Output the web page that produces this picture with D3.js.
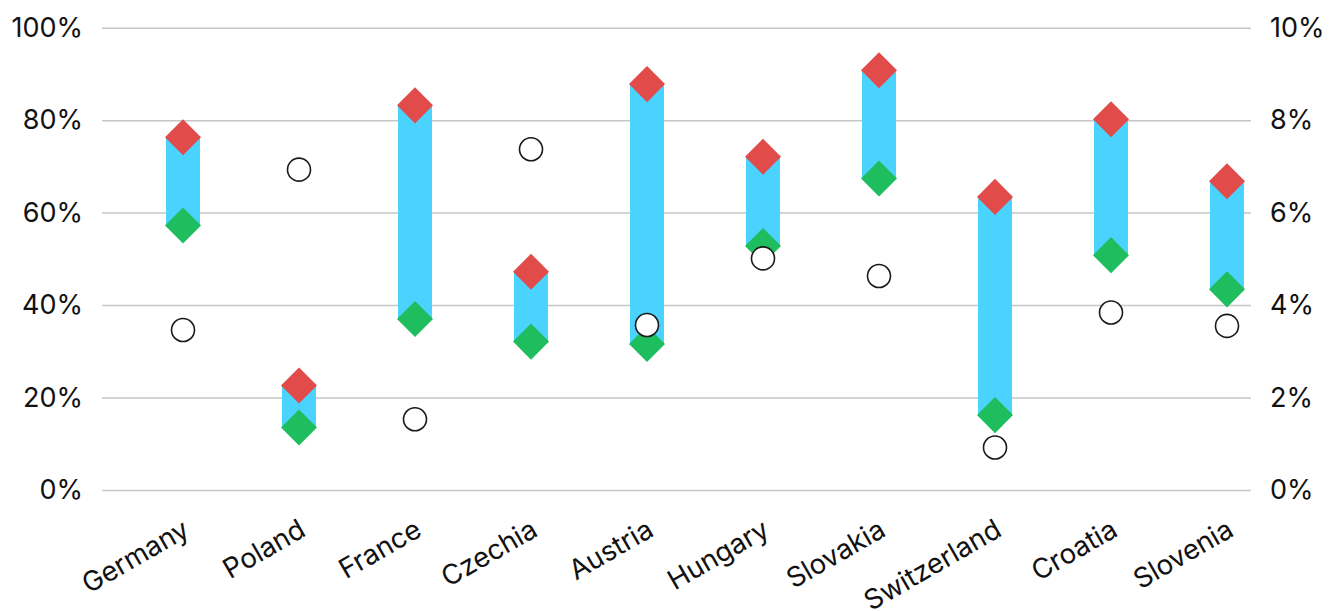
<!DOCTYPE html>
<html>
<head>
<meta charset="utf-8">
<script src="https://cdn.jsdelivr.net/npm/d3@7"></script>
<style>
  html, body { margin: 0; padding: 0; background: #fff; }
  svg { display: block; }
  .tick text { font-family: Inter, "Liberation Sans", Arial, sans-serif; fill: #111; }
</style>
</head>
<body>
<svg id="chart" width="1341" height="611"></svg>
<script>
const categories = ["Germany","Poland","France","Czechia","Austria","Hungary","Slovakia","Switzerland","Croatia","Slovenia"];
const highValues = [76.3, 22.6, 83.2, 47.2, 87.8, 72.1, 90.8, 63.4, 80.2, 66.8];   // red diamonds (left axis, %)
const lowValues  = [57.2, 13.5, 37.0, 32.1, 31.6, 52.8, 67.4, 16.2, 50.8, 43.4];   // green diamonds (left axis, %)
const circleValues = [3.46, 6.93, 1.53, 7.37, 3.57, 5.01, 4.63, 0.92, 3.84, 3.55]; // circles (right axis, %)
const leftTicks = [0, 20, 40, 60, 80, 100];
const rightTicks = [0, 2, 4, 6, 8, 10];

const svg = d3.select("#chart");
const gridLeft = 102, gridRight = 1251;
const y = d3.scaleLinear().domain([0, 100]).range([490, 27.7]);
const yR = d3.scaleLinear().domain([0, 10]).range([490, 27.7]);
const x = d3.scalePoint().domain(categories).range([183, 1227]);

// left axis + gridlines
const gl = svg.append("g").attr("transform", `translate(${gridLeft},0)`)
  .call(d3.axisLeft(y).tickValues(leftTicks).tickFormat(d => d + "%")
    .tickSize(-(gridRight - gridLeft)).tickPadding(19));
gl.select(".domain").remove();
gl.selectAll(".tick line").attr("stroke", "#c6c6c6").attr("stroke-width", 1.5);
gl.selectAll(".tick text").attr("font-size", 27);

// right axis
const gr = svg.append("g").attr("transform", `translate(${gridRight},0)`)
  .call(d3.axisRight(yR).tickValues(rightTicks).tickFormat(d => d + "%")
    .tickSize(0).tickPadding(19));
gr.select(".domain").remove();
gr.selectAll(".tick text").attr("font-size", 27);

// x axis labels
const gx = svg.append("g").attr("transform", `translate(0,490)`)
  .call(d3.axisBottom(x).tickSize(0).tickPadding(0));
gx.select(".domain").remove();
gx.selectAll(".tick text")
  .attr("font-size", 27.5)
  .attr("text-anchor", "end")
  .attr("transform", "translate(-2,28) rotate(-30)")
  .attr("dy", "0.71em")
  .attr("y", 0).attr("x", 0);

const data = categories.map((c, i) => ({ c, hi: highValues[i], lo: lowValues[i], circ: circleValues[i] }));

// bars
const barW = 34;
svg.append("g").selectAll("rect").data(data).join("rect")
  .attr("x", d => x(d.c) - barW / 2)
  .attr("y", d => y(d.hi))
  .attr("width", barW)
  .attr("height", d => y(d.lo) - y(d.hi))
  .attr("fill", "#4bd3ff");

const diamond = d3.symbol().type(d3.symbolSquare).size(650);
// green diamonds
svg.append("g").selectAll("path").data(data).join("path")
  .attr("d", diamond)
  .attr("transform", d => `translate(${x(d.c)},${y(d.lo)}) rotate(45)`)
  .attr("fill", "#1ebe5f");
// red diamonds
svg.append("g").selectAll("path").data(data).join("path")
  .attr("d", diamond)
  .attr("transform", d => `translate(${x(d.c)},${y(d.hi)}) rotate(45)`)
  .attr("fill", "#e14b4a");

// circles
svg.append("g").selectAll("circle").data(data).join("circle")
  .attr("cx", d => x(d.c))
  .attr("cy", d => yR(d.circ))
  .attr("r", 11.5)
  .attr("fill", "#fff")
  .attr("stroke", "#1a1a1a")
  .attr("stroke-width", 1.6);
</script>
</body>
</html>
